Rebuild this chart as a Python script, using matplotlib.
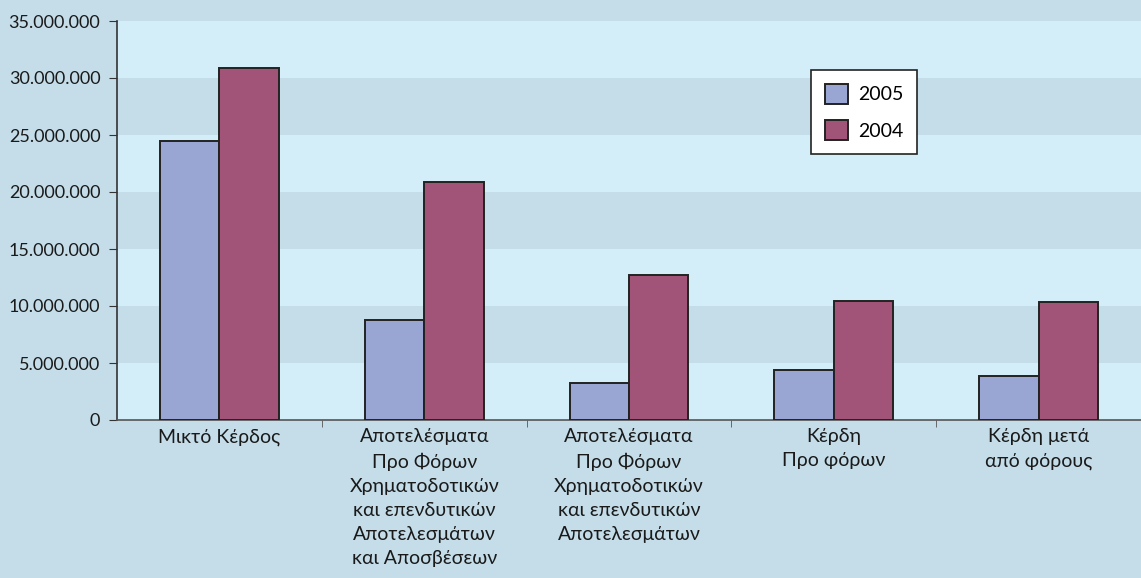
import numpy as np
import matplotlib
matplotlib.use('Agg')
import matplotlib.pyplot as plt
from matplotlib.ticker import FuncFormatter, MultipleLocator

categories = ['Μικτό Κέρδος',
              'Αποτελέσματα\nΠρο Φόρων\nΧρηματοδοτικών\nκαι επενδυτικών\nΑποτελεσμάτων\nκαι Αποσβέσεων',
              'Αποτελέσματα\nΠρο Φόρων\nΧρηματοδοτικών\nκαι επενδυτικών\nΑποτελεσμάτων',
              'Κέρδη\nΠρο φόρων',
              'Κέρδη μετά\nαπό φόρους']
series_names = ['2005', '2004']
values_2005 = [24500000, 8780000, 3260000, 4370000, 3850000]
values_2004 = [30850000, 20900000, 12700000, 10440000, 10330000]

plt.rcParams['font.family'] = ['Lato', 'DejaVu Sans']

bg = '#c4dde9'
light = '#d3eef9'

fig = plt.figure(figsize=(11.41, 5.78), dpi=100, facecolor=bg)
ax = fig.add_axes([117 / 1141, 1 - 420 / 578, 1 - 117 / 1141, 399 / 578])
ax.set_facecolor(light)

# alternating bands
for lo in range(5000000, 35000000, 10000000):
    ax.axhspan(lo, lo + 5000000, color=bg, lw=0, zorder=0)

x = np.arange(len(categories))
w = 0.29
ax.bar(x - w / 2, values_2005, w, color='#99a6d3', edgecolor='#222222', lw=1.4,
       label=series_names[0], zorder=3)
ax.bar(x + w / 2, values_2004, w, color='#a15477', edgecolor='#222222', lw=1.4,
       label=series_names[1], zorder=3)

ax.set_xlim(-0.5, (1141 - 220) / 206)
ax.set_ylim(0, 35000000)
ax.yaxis.set_major_locator(MultipleLocator(5000000))
ax.yaxis.set_major_formatter(FuncFormatter(lambda v, p: f'{int(v):,}'.replace(',', '.')))

ax.set_xticks(x)
ax.set_xticklabels(categories, fontsize=14, color='#1a1a1a', linespacing=1.5, va='top')
ax.tick_params(axis='x', which='major', length=0, pad=6)
ax.set_xticks(np.arange(len(categories)) + 0.5, minor=True)
ax.tick_params(axis='x', which='minor', length=5, color='#555555', direction='out')
ax.tick_params(axis='y', length=6, color='#333333', labelsize=13, labelcolor='#1a1a1a', pad=6)

for s in ['top', 'right']:
    ax.spines[s].set_visible(False)
ax.spines['left'].set_color('#333333')
ax.spines['left'].set_linewidth(1.2)
ax.spines['bottom'].set_color('#555555')
ax.spines['bottom'].set_linewidth(1.2)

leg = ax.legend(loc='upper left', bbox_to_anchor=(0.678, 0.877), borderaxespad=0,
                fontsize=14, frameon=True, fancybox=False, edgecolor='#222222',
                facecolor='white', framealpha=1, handlelength=1.2, handleheight=1.2,
                handletextpad=0.5, borderpad=0.7, labelspacing=0.85)
leg.get_frame().set_linewidth(1.2)

fig.savefig('out.png', dpi=100, facecolor=bg)
